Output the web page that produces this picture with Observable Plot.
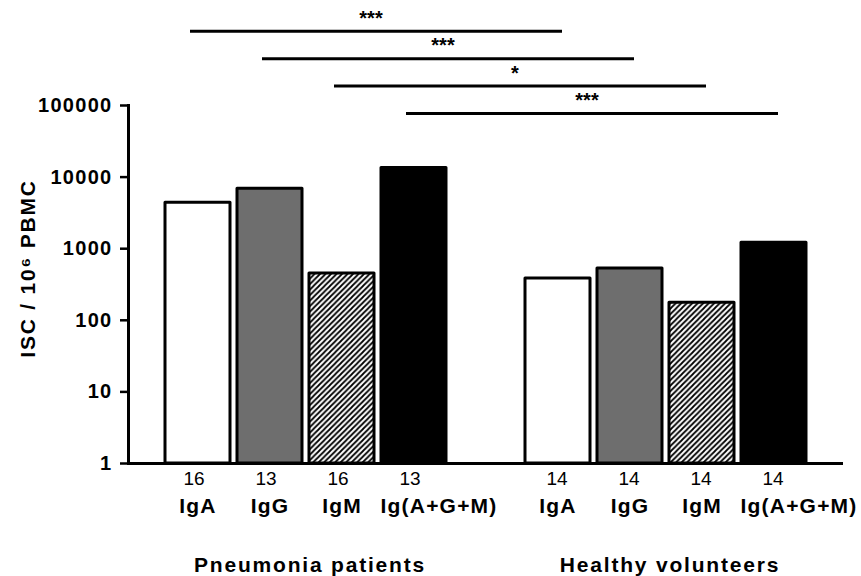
<!DOCTYPE html>
<html>
<head>
<meta charset="utf-8">
<script src="https://cdn.jsdelivr.net/npm/d3@7"></script>
<script src="https://cdn.jsdelivr.net/npm/@observablehq/plot@0.6"></script>
<style>
  html, body { margin: 0; padding: 0; background: #fff; }
</style>
</head>
<body>
<div id="chart"></div>
<script>
// ---- data ----
const groups = ["Pneumonia patients", "Healthy volunteers"];
const groupKeys = ["P", "H"];
const isotypes = ["IgA", "IgG", "IgM", "Ig(A+G+M)"];
const pneumoniaValues = [4400, 6900, 450, 13400];
const healthyValues = [385, 530, 176, 1210];
const pneumoniaN = [16, 13, 16, 13];
const healthyN = [14, 14, 14, 14];
const yTicks = [1, 10, 100, 1000, 10000, 100000];
const yLabel = "ISC / 10\u2076 PBMC";
const sigIsotypes = ["IgA", "IgG", "IgM", "Ig(A+G+M)"];
const sigLabels = ["***", "***", "*", "***"];
const fills = ["white", "#6e6e6e", "url(#hatch)", "black"];

// ---- derived tables ----
const GAP = "gap";
const slots = [
  ...isotypes.map(k => `P|${k}`),
  GAP,
  ...isotypes.map(k => `H|${k}`)
];
const valuesByGroup = [pneumoniaValues, healthyValues];
const nByGroup = [pneumoniaN, healthyN];
const bars = groupKeys.flatMap((g, gi) =>
  isotypes.map((iso, i) => ({
    slot: `${g}|${iso}`,
    groupKey: g,
    group: groups[gi],
    isotype: iso,
    combined: i === isotypes.length - 1,
    value: valuesByGroup[gi][i],
    n: nByGroup[gi][i],
    fill: fills[i]
  }))
);
const groupLabels = groupKeys.map((g, gi) => ({slot: `${g}|${isotypes[1]}`, group: groups[gi]}));
const comparisons = sigIsotypes.map((iso, i) => ({
  from: `P|${iso}`,
  to: `H|${iso}`,
  mid: slots[isotypes.indexOf(iso) + 2],
  label: sigLabels[i]
}));

const FONT = "'Liberation Sans', Arial, Helvetica, sans-serif";
const levelGap = 27.4;
const topTick = yTicks[yTicks.length - 1];

const bracketMarks = comparisons.flatMap((c, i) => {
  const dy = 8 - levelGap * (comparisons.length - 1 - i);
  return [
    Plot.ruleY([c], {x1: "from", x2: "to", y: topTick, dy, insetLeft: 25, insetRight: 28, stroke: "black", strokeWidth: 3}),
    Plot.text([c], {x: "mid", y: topTick, dy: dy - 13, dx: 29, text: "label", fontSize: 20, fontWeight: "bold", fill: "black"})
  ];
});

const labelOpts = {x: "slot", text: "isotype", frameAnchor: "bottom", dy: 43, fontSize: 21, fontWeight: "bold", lineAnchor: "middle", textAnchor: "middle"};
const countOpts = {x: "slot", text: "n", frameAnchor: "bottom", dy: 15, fontSize: 19, fontWeight: "normal", lineAnchor: "middle", textAnchor: "middle"};

const plot = Plot.plot({
  width: 861,
  height: 576,
  marginLeft: 128,
  marginRight: 18,
  marginTop: 105,
  marginBottom: 113,
  style: {fontFamily: FONT, background: "white", color: "black", overflow: "visible"},
  x: {domain: slots, paddingInner: 0.1, paddingOuter: 0.05, insetLeft: 32, insetRight: 32, axis: null},
  y: {type: "log", domain: [yTicks[0], topTick], axis: null},
  color: {type: "identity"},
  marks: [
    Plot.barY(bars, {x: "slot", y1: yTicks[0], y2: "value", fill: "fill", stroke: "black", strokeWidth: 3, strokeLinejoin: "round"}),
    Plot.ruleY([yTicks[0]], {stroke: "black", strokeWidth: 3}),
    Plot.frame({anchor: "left", stroke: "black", strokeWidth: 3}),
    Plot.axisY({ticks: yTicks, tickFormat: d => String(d), tickSize: 8, tickPadding: 8, stroke: "black", strokeWidth: 2.5, fontSize: 20, fontWeight: "bold", label: null}),
    Plot.text([yLabel], {frameAnchor: "left", rotate: -90, dx: -100, dy: -16, fontSize: 21, fontWeight: "bold", textAnchor: "middle", lineAnchor: "middle"}),
    Plot.text(bars.filter(d => d.groupKey === "P"), {...countOpts, dx: -4}),
    Plot.text(bars.filter(d => d.groupKey === "H"), {...countOpts, dx: -1}),
    Plot.text(bars.filter(d => !d.combined), labelOpts),
    Plot.text(bars.filter(d => d.combined), {...labelOpts, dx: 25}),
    Plot.text(groupLabels, {x: "slot", text: "group", frameAnchor: "bottom", dy: 101.5, dx: 40, fontSize: 21, fontWeight: "bold", lineAnchor: "middle", textAnchor: "middle"}),
    ...bracketMarks
  ]
});

// hatch pattern for the IgM bars
const svg = d3.select(plot);
const defs = svg.insert("defs", ":first-child");
const pat = defs.append("pattern")
  .attr("id", "hatch")
  .attr("patternUnits", "userSpaceOnUse")
  .attr("width", 5.5)
  .attr("height", 5.5);
pat.append("rect").attr("width", 5.5).attr("height", 5.5).attr("fill", "white");
pat.append("path")
  .attr("d", "M-1,1 l2,-2 M0,5.5 l5.5,-5.5 M4.5,6.5 l2,-2")
  .attr("stroke", "black")
  .attr("stroke-width", 1.8);

// wide lettering as in the reference
function spaceOut(strings, px) {
  svg.selectAll("text")
    .filter(function () { return strings.includes(this.textContent); })
    .style("letter-spacing", px + "px");
}
spaceOut(yTicks.map(String), 1.3);
spaceOut(isotypes, 1.2);
spaceOut(groups, 1.8);
spaceOut([yLabel], 1.8);

document.getElementById("chart").appendChild(plot);
</script>
</body>
</html>
